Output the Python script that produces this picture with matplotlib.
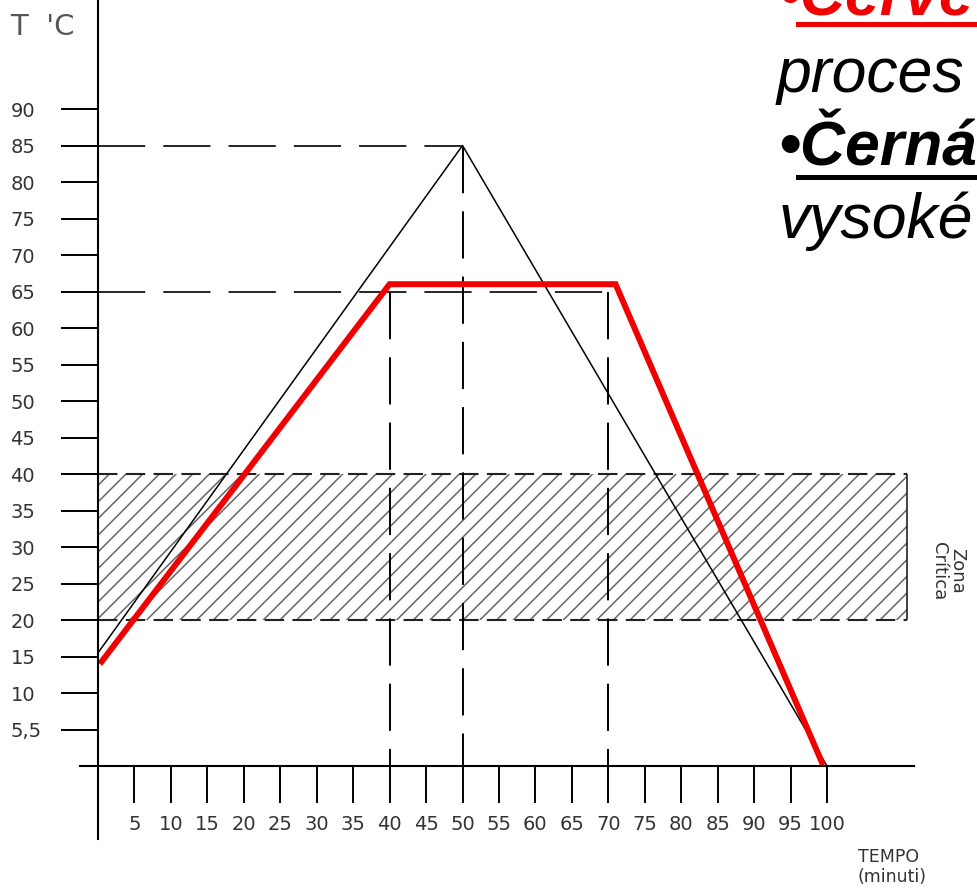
import matplotlib.pyplot as plt
import matplotlib.patches as mpatches
from matplotlib.lines import Line2D

plt.rcParams['lines.scale_dashes'] = False
plt.rcParams['hatch.linewidth'] = 1.1

# temperature profiles (minutes, deg C)
black_x = [0, 50, 100]
black_y = [15.5, 85, 0]
red_x = [0.5, 40, 71, 99.3]
red_y = [14.3, 66, 66, 0.5]

# dashed guide lines
h_levels = [85, 65]
h_ends = [50, 70]
v_pos = [40, 50, 70]
v_tops = [65, 85, 65]

# critical zone
zone_x = [0, 111]
zone_y = [20, 40]

x_ticks = list(range(5, 105, 5))
y_ticks = list(range(5, 95, 5))
y_labels = ['5,5'] + [str(v) for v in y_ticks[1:]]

W, H = 977, 896
fig = plt.figure(figsize=(W / 100, H / 100), dpi=100)
ax = fig.add_axes([0, 0, 1, 1])
# 1 unit ~ 7.29 px in x, 7.3 px in y; origin at pixel (98, 766)
ax.set_xlim(-98 / 7.29, (W - 98) / 7.29)
ax.set_ylim(-(H - 766) / 7.3, 766 / 7.3)
ax.patch.set_visible(False)
for s in ['top', 'right']:
    ax.spines[s].set_visible(False)
ax.spines['left'].set_position(('data', 0))
ax.spines['bottom'].set_position(('data', 0))
ax.spines['left'].set_bounds(-10, 110)
ax.spines['bottom'].set_bounds(-2.5, 112)
for s in ['left', 'bottom']:
    ax.spines[s].set_linewidth(1.5)

ax.set_xticks(x_ticks)
ax.set_xticklabels([str(v) for v in x_ticks])
ax.set_yticks(y_ticks)
ax.set_yticklabels(y_labels)
ax.tick_params(axis='x', direction='out', length=26.5, width=1.4,
               pad=9, labelsize=14, labelcolor='#333')
ax.tick_params(axis='y', direction='out', length=27, width=1.4,
               pad=36, labelsize=14, labelcolor='#333')
for lbl in ax.get_yticklabels():
    lbl.set_horizontalalignment('left')

# critical zone
zone = mpatches.Rectangle((zone_x[0], zone_y[0]), zone_x[1] - zone_x[0],
                          zone_y[1] - zone_y[0], facecolor='none',
                          edgecolor='#666', linewidth=0, hatch='//')
ax.add_patch(zone)
ax.hlines(zone_y, zone_x[0], zone_x[1], colors='#222', linewidth=1.5,
          linestyles=(0, (14, 6)))
ax.vlines(zone_x[1], zone_y[0], zone_y[1], colors='#222', linewidth=1.2)

# guides
for lvl, xe in zip(h_levels, h_ends):
    ax.plot([0, xe], [lvl, lvl], color='black', lw=1.2, dashes=(34, 13),
            dash_capstyle='butt')
for xv, top in zip(v_pos, v_tops):
    ax.plot([xv, xv], [top, 0], color='black', lw=1.4, dashes=(34, 13),
            dash_capstyle='butt')

ax.plot(black_x, black_y, color='black', lw=1.1)
ax.plot(red_x, red_y, color='#f00000', lw=4.3, solid_joinstyle='miter')

ax.text(-12.1, 101.2, "T  'C", fontsize=21, color='#555', va='center',
        ha='left')
ax.text(104.2, -11.2, 'TEMPO\n(minuti)', fontsize=12.5, color='#333',
        va='top', ha='left', linespacing=1.15)
ax.text(116.6, 26.7, 'Zona\nCrítica', fontsize=13, color='#333',
        rotation=270, va='center', ha='center', linespacing=1.0)

# slide text overlapping on the right
fnt = 'Liberation Sans'
fig.text(778 / W, 1 - 15 / H, '•Červe', fontsize=45, fontfamily=fnt,
         fontweight='bold', fontstyle='italic', color='#f00000', va='baseline')
fig.text(777 / W, 1 - 92 / H, 'proces', fontsize=45, fontfamily=fnt,
         fontstyle='italic', color='black', va='baseline')
fig.text(778 / W, 1 - 165 / H, '•Černá', fontsize=45, fontfamily=fnt,
         fontweight='bold', fontstyle='italic', color='black', va='baseline')
fig.text(779 / W, 1 - 238 / H, 'vysoké', fontsize=45, fontfamily=fnt,
         fontstyle='italic', color='black', va='baseline')
fig.add_artist(Line2D([798 / W, 1], [1 - 24 / H] * 2, color='#f00000', lw=3.6))
fig.add_artist(Line2D([798 / W, 1], [1 - 177 / H] * 2, color='black', lw=3.6))

fig.savefig('out.png', dpi=100)
